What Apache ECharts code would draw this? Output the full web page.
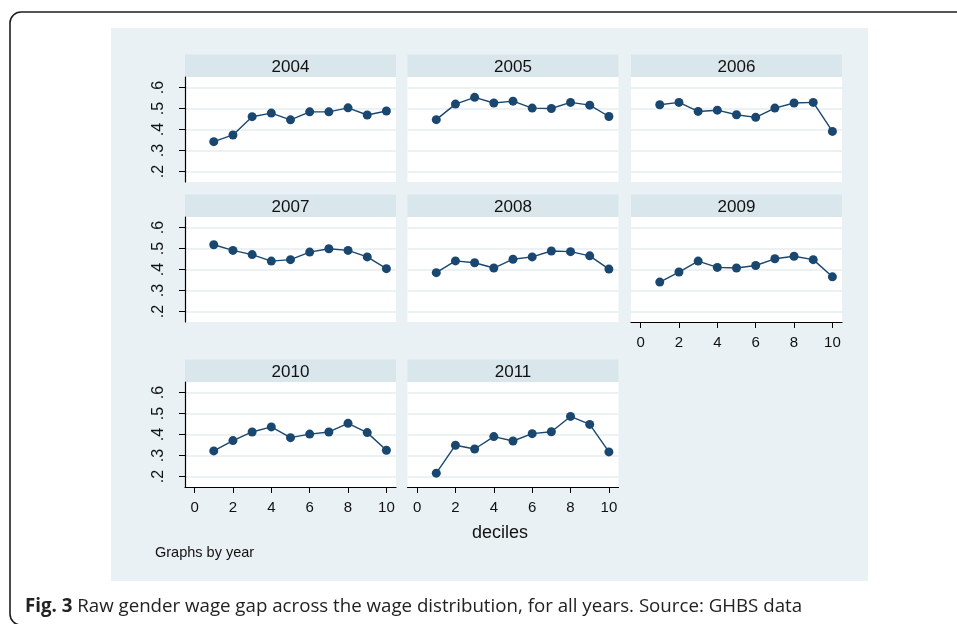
<!DOCTYPE html>
<html>
<head>
<meta charset="utf-8">
<script src="https://cdn.jsdelivr.net/npm/echarts@6/dist/echarts.min.js"></script>
<style>
html,body{margin:0;padding:0;background:#fff;}
#chart{width:957px;height:624px;}
</style>
</head>
<body>
<div id="chart"></div>
<script>
// ---- data ----
const years = ['2004','2005','2006','2007','2008','2009','2010','2011'];
const deciles = [1,2,3,4,5,6,7,8,9,10];
const gap2004 = [0.342,0.374,0.461,0.478,0.446,0.484,0.484,0.503,0.469,0.488];
const gap2005 = [0.447,0.521,0.553,0.526,0.535,0.502,0.500,0.529,0.516,0.462];
const gap2006 = [0.518,0.529,0.486,0.492,0.470,0.458,0.502,0.526,0.529,0.391];
const gap2007 = [0.518,0.491,0.471,0.440,0.447,0.483,0.499,0.491,0.460,0.404];
const gap2008 = [0.385,0.441,0.432,0.407,0.449,0.460,0.488,0.485,0.465,0.402];
const gap2009 = [0.340,0.388,0.440,0.410,0.407,0.419,0.451,0.463,0.447,0.365];
const gap2010 = [0.322,0.371,0.412,0.436,0.385,0.402,0.412,0.453,0.409,0.325];
const gap2011 = [0.216,0.349,0.331,0.390,0.369,0.404,0.413,0.486,0.448,0.317];
const yTicks = [0.2,0.3,0.4,0.5,0.6];
const xTicks = [0,2,4,6,8,10];
const xTitle = 'deciles';
const byNote = 'Graphs by year';
const captionBold = 'Fig. 3';
const captionText = ' Raw gender wage gap across the wage distribution, for all years. Source: GHBS data';

const allGaps = [gap2004,gap2005,gap2006,gap2007,gap2008,gap2009,gap2010,gap2011];

// ---- layout ----
const colLeft = [185, 407.5, 631];
const plotW = 211;
const rowTop = [77, 217, 382];
const plotH = 105;
const headH = 22.5;
const navy = '#1a476f';
const FONT = '"Liberation Sans", Arial, sans-serif';
const CAPFONT = '"Open Sans", sans-serif';

const chart = echarts.init(document.getElementById('chart'), null, {renderer:'canvas'});

const grids=[], xAxes=[], yAxes=[], series=[], graphics=[];

// outer frame & figure background (behind everything)
graphics.push({type:'rect', z:-10, shape:{x:10,y:12,width:1000,height:613,r:11}, style:{fill:'#ffffff',stroke:'#1e1e1e',lineWidth:1.6}});
graphics.push({type:'rect', z:-9, shape:{x:111,y:28,width:757,height:553}, style:{fill:'#eaf1f4'}});

years.forEach((yr,i)=>{
  const r = Math.floor(i/3), c = i%3;
  const left = colLeft[c], top = rowTop[r];
  const showY = c===0;
  const showX = (i===5 || i===6 || i===7);
  // white plot region + header strip
  graphics.push({type:'rect', z:-8, shape:{x:left,y:top,width:plotW,height:plotH}, style:{fill:'#ffffff'}});
  graphics.push({type:'rect', z:-8, shape:{x:left,y:top-headH,width:plotW,height:headH}, style:{fill:'#d9e6ec'}});
  graphics.push({type:'text', z:5, x:left+plotW/2, y:top-headH/2+2, style:{text:yr, font:'17px '+FONT, fill:'#111', align:'center', verticalAlign:'middle'}});
  grids.push({left:left, top:top, width:plotW, height:plotH, show:false, containLabel:false});
  xAxes.push({
    type:'value', gridIndex:i, min:-0.5, max:10.5,
    axisLine:{show:showX, onZero:false, lineStyle:{color:'#000',width:1.2}},
    axisTick:{show:showX, length:6, lineStyle:{color:'#000',width:1}, customValues:xTicks},
    axisLabel:{show:showX, customValues:xTicks, margin:13, fontSize:15, fontFamily:FONT, color:'#111'},
    splitLine:{show:false}
  });
  yAxes.push({
    type:'value', gridIndex:i, min:0.15, max:0.65,
    axisLine:{show:showY, onZero:false, lineStyle:{color:'#000',width:1.2}},
    axisTick:{show:showY, length:6, lineStyle:{color:'#000',width:1}, customValues:yTicks},
    axisLabel:{show:showY, customValues:yTicks, rotate:90, margin:18, fontSize:16, fontFamily:FONT, color:'#111',
      formatter:v=>v.toFixed(1).replace(/^0/,'')},
    splitLine:{show:true, lineStyle:{color:'#e6eef1', width:1.6}}
  });
  series.push({
    type:'line', xAxisIndex:i, yAxisIndex:i,
    data: deciles.map((d,k)=>[d, allGaps[i][k]]),
    symbol:'circle', symbolSize:9, showSymbol:true,
    itemStyle:{color:navy},
    lineStyle:{color:navy, width:1.4},
    animation:false, z:3
  });
});

graphics.push({type:'text', z:5, x:500, y:533, style:{text:xTitle, font:'18px '+FONT, fill:'#111', align:'center', verticalAlign:'middle'}});
graphics.push({type:'text', z:5, x:155, y:553, style:{text:byNote, font:'14.5px '+FONT, fill:'#111', align:'left', verticalAlign:'middle'}});
graphics.push({type:'text', z:5, x:25, y:607, style:{
  text:'{b|'+captionBold+'}{n|'+captionText+'}',
  align:'left', verticalAlign:'middle',
  rich:{
    b:{fontWeight:'bold', fontSize:18.7, fontFamily:CAPFONT, fill:'#222'},
    n:{fontWeight:'normal', fontSize:18.7, fontFamily:CAPFONT, fill:'#222'}
  }
}});

chart.setOption({
  animation:false,
  backgroundColor:'#ffffff',
  grid:grids, xAxis:xAxes, yAxis:yAxes, series:series,
  graphic:{elements:graphics}
});
</script>
</body>
</html>
